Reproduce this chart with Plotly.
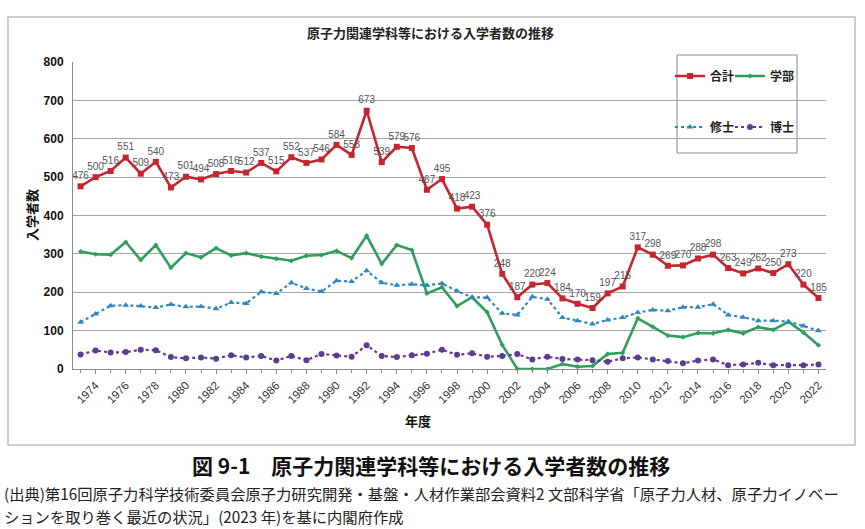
import plotly.graph_objects as go

years = list(range(1973, 2023))
tick_years = [y for y in years if y % 2 == 0]
tick_labels = [str(y) for y in tick_years]

total = [476, 500, 516, 551, 509, 540, 473, 501, 494, 508,
         516, 512, 537, 515, 552, 537, 546, 584, 558, 673,
         539, 579, 576, 467, 495, 418, 423, 376, 248, 187,
         220, 224, 184, 170, 159, 197, 215, 317, 298, 269,
         270, 288, 298, 263, 249, 262, 250, 273, 220, 185]

undergrad = [306, 299, 298, 331, 284, 323, 264, 302, 291, 315,
             296, 302, 293, 287, 282, 295, 297, 308, 289, 347,
             274, 323, 310, 197, 213, 164, 187, 148, 63, 0,
             0, 0, 13, 6, 8, 39, 42, 132, 110, 87,
             83, 94, 93, 102, 93, 109, 102, 123, 95, 62]

master = [122, 143, 165, 166, 164, 160, 168, 162, 163, 157,
          173, 171, 201, 197, 225, 210, 202, 230, 228, 256,
          225, 218, 221, 218, 223, 203, 187, 186, 145, 141,
          188, 182, 134, 126, 117, 128, 134, 147, 154, 152,
          161, 161, 169, 141, 135, 126, 126, 124, 112, 100]

doctor = [38, 48, 43, 44, 50, 49, 31, 28, 30, 27,
          36, 30, 34, 22, 34, 23, 39, 35, 32, 62,
          34, 31, 36, 40, 50, 37, 41, 32, 34, 39,
          25, 32, 26, 25, 23, 19, 28, 30, 25, 21,
          15, 22, 25, 10, 12, 16, 10, 10, 10, 12]

names = ["合計", "学部", "修士", "博士"]

W, H = 865, 529
L, R, T, B = 73, 826, 62, 369


def px_x(p):
    return (p - L) / (R - L)


def px_y(p):
    return (B - p) / (B - T)


JP = "Noto Sans CJK JP"
red = "#C3262E"
green = "#2E9E5A"
blue = "#2F86C2"
purple = "#5E3C8F"

fig = go.Figure()
fig.add_trace(go.Scatter(
    x=years, y=total, name=names[0], mode="lines+markers+text",
    line=dict(color=red, width=2.6),
    marker=dict(symbol="square", size=6, color=red),
    text=[str(v) for v in total], textposition="top center",
    textfont=dict(family="Liberation Sans", size=10, color="#555555"),
    cliponaxis=False, legend="legend"))
fig.add_trace(go.Scatter(
    x=years, y=undergrad, name=names[1], mode="lines+markers",
    line=dict(color=green, width=2.6),
    marker=dict(symbol="diamond", size=4, color=green),
    cliponaxis=False, legend="legend2"))
fig.add_trace(go.Scatter(
    x=years, y=master, name=names[2], mode="lines+markers",
    line=dict(color=blue, width=2.2, dash="dot"),
    marker=dict(symbol="triangle-up", size=6, color=blue),
    cliponaxis=False, legend="legend3"))
fig.add_trace(go.Scatter(
    x=years, y=doctor, name=names[3], mode="lines+markers",
    line=dict(color=purple, width=2.2, dash="dot"),
    marker=dict(symbol="circle", size=6, color=purple),
    cliponaxis=False, legend="legend4"))


def leg(px, py):
    return dict(
        x=px_x(px), y=px_y(py),
        orientation="v", xanchor="left", yanchor="middle",
        bgcolor="rgba(0,0,0,0)", borderwidth=0, itemwidth=30,
        font=dict(family=JP, size=12, color="#222222", weight="bold"),
        itemclick=False, itemdoubleclick=False)


fig.update_layout(
    width=W, height=H,
    margin=dict(l=L, r=W - R, t=T, b=H - B, autoexpand=False),
    paper_bgcolor="white", plot_bgcolor="white",
    showlegend=True,
    legend=leg(670, 76),
    legend2=leg(730, 76),
    legend3=leg(670, 127),
    legend4=leg(730, 127),
    xaxis=dict(
        range=[1972.5, 2022.5], tickmode="array",
        tickvals=tick_years, ticktext=tick_labels, tickangle=-45,
        tickfont=dict(family="Liberation Sans", size=11.5, color="#333333"),
        showgrid=False, zeroline=False, showline=True,
        linecolor="#8C8C8C", linewidth=1, automargin=False,
        ticks="outside", ticklen=4, tickcolor="#8C8C8C",
        minor=dict(dtick=1, ticks="outside", ticklen=3, tickcolor="#8C8C8C"),
    ),
    yaxis=dict(
        range=[0, 800], dtick=100, tickmode="linear", tick0=0,
        tickfont=dict(family="Liberation Sans", size=12, color="#111111",
                      weight="bold"),
        showgrid=True, gridcolor="#A6A6A6", gridwidth=1, automargin=False,
        zeroline=False, showline=True, linecolor="#8C8C8C", linewidth=1,
        ticks="", ticklabelstandoff=6,
    ),
)

# chart frame and legend box
fig.add_shape(type="rect", xref="paper", yref="paper",
              x0=px_x(8), x1=px_x(855), y0=px_y(445), y1=px_y(17),
              line=dict(color="#BDBDBD", width=1.5), layer="below")
fig.add_shape(type="rect", xref="paper", yref="paper",
              x0=px_x(677), x1=px_x(797), y0=px_y(153), y1=px_y(55),
              line=dict(color="#8A8A8A", width=1), fillcolor="white",
              layer="below")

ann = [
    dict(text="原子力関連学科等における入学者数の推移", x=px_x(430), y=px_y(33),
         font=dict(family=JP, size=13, color="#222222", weight="bold")),
    dict(text="入学者数", x=px_x(31), y=px_y(215), textangle=-90,
         font=dict(family=JP, size=13, color="#111111", weight="bold")),
    dict(text="年度", x=px_x(418), y=px_y(420),
         font=dict(family=JP, size=13, color="#111111", weight="bold")),
    dict(text="図 9-1　原子力関連学科等における入学者数の推移", x=px_x(431), y=px_y(465),
         font=dict(family=JP, size=21, color="#111111", weight="bold")),
]
for a in ann:
    fig.add_annotation(xref="paper", yref="paper", showarrow=False,
                       xanchor="center", yanchor="middle", **a)

src = [
    ("(出典)第16回原子力科学技術委員会原子力研究開発・基盤・人材作業部会資料2 文部科学省「原子力人材、原子力イノベー", 493),
    ("ションを取り巻く最近の状況」(2023 年)を基に内閣府作成", 516),
]
for txt, py in src:
    fig.add_annotation(xref="paper", yref="paper", showarrow=False,
                       x=px_x(2), y=px_y(py), xanchor="left", yanchor="middle",
                       text=txt,
                       font=dict(family=JP, size=15.3, color="#222222"))

fig.write_html("out.html",
               config={"displayModeBar": False},
               post_script="document.body.style.margin='0';"
                           "document.body.style.overflow='hidden';")
